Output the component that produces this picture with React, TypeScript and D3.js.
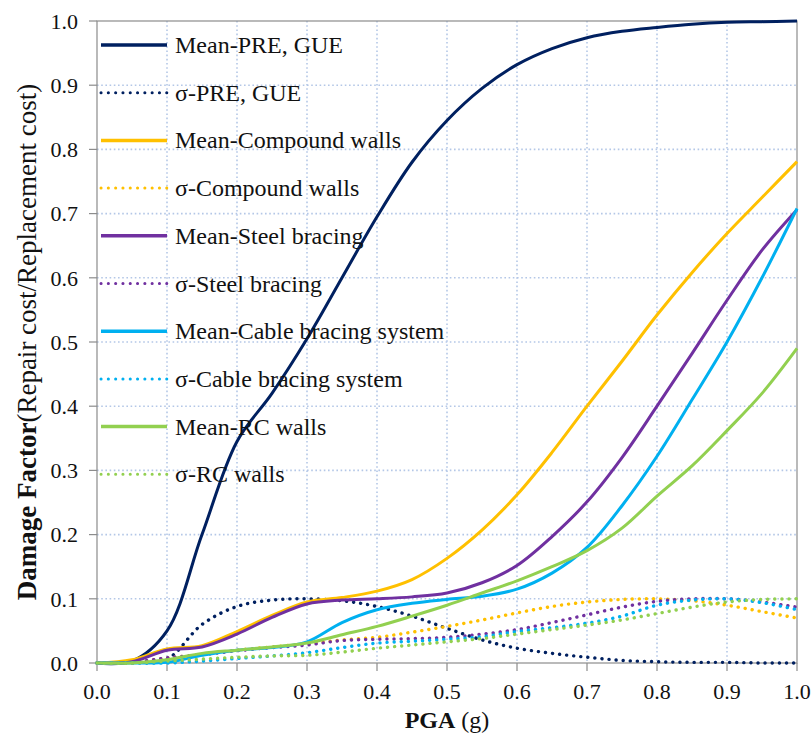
import React from 'react';
import * as d3 from 'd3';

const PGA = [0, 0.05, 0.1, 0.15, 0.2, 0.25, 0.3, 0.35, 0.4, 0.45, 0.5, 0.55, 0.6, 0.65, 0.7, 0.75, 0.8, 0.85, 0.9, 0.95, 1.0];

const meanPRE = [0, 0.003, 0.05, 0.2, 0.345, 0.42, 0.505, 0.6, 0.695, 0.78, 0.845, 0.895, 0.932, 0.957, 0.974, 0.984, 0.99, 0.995, 0.998, 0.999, 1.0];
const sigmaPRE = [0, 0, 0.006, 0.06, 0.088, 0.098, 0.1, 0.097, 0.088, 0.073, 0.054, 0.036, 0.023, 0.015, 0.009, 0.004, 0.002, 0.001, 0.001, 0, 0];
const meanCompound = [0, 0.005, 0.022, 0.027, 0.049, 0.074, 0.095, 0.102, 0.112, 0.13, 0.163, 0.207, 0.262, 0.328, 0.4, 0.47, 0.542, 0.608, 0.669, 0.725, 0.781];
const sigmaCompound = [0, 0.001, 0.008, 0.013, 0.02, 0.025, 0.03, 0.036, 0.04, 0.048, 0.057, 0.067, 0.078, 0.088, 0.095, 0.099, 0.1, 0.097, 0.09, 0.08, 0.07];
const meanSteel = [0, 0.002, 0.02, 0.025, 0.045, 0.071, 0.092, 0.098, 0.1, 0.103, 0.109, 0.125, 0.152, 0.197, 0.251, 0.32, 0.4, 0.482, 0.565, 0.643, 0.706];
const sigmaSteel = [0, 0.001, 0.008, 0.013, 0.019, 0.024, 0.028, 0.035, 0.037, 0.038, 0.04, 0.045, 0.052, 0.063, 0.075, 0.087, 0.096, 0.1, 0.1, 0.095, 0.087];
const meanCable = [0, 0, 0.001, 0.012, 0.02, 0.024, 0.033, 0.063, 0.083, 0.093, 0.099, 0.104, 0.115, 0.14, 0.18, 0.245, 0.322, 0.41, 0.5, 0.6, 0.708];
const sigmaCable = [0, 0, 0, 0.003, 0.007, 0.011, 0.016, 0.024, 0.031, 0.034, 0.037, 0.041, 0.049, 0.055, 0.062, 0.073, 0.09, 0.098, 0.1, 0.094, 0.083];
const meanRC = [0, 0, 0.005, 0.015, 0.02, 0.025, 0.031, 0.044, 0.057, 0.073, 0.09, 0.109, 0.128, 0.15, 0.175, 0.21, 0.26, 0.307, 0.362, 0.42, 0.49];
const sigmaRC = [0, 0, 0.003, 0.006, 0.009, 0.011, 0.012, 0.017, 0.023, 0.028, 0.033, 0.038, 0.045, 0.052, 0.059, 0.067, 0.077, 0.087, 0.095, 0.099, 0.1];

const X_TICKS = [0, 0.1, 0.2, 0.3, 0.4, 0.5, 0.6, 0.7, 0.8, 0.9, 1.0];
const Y_TICKS = [0, 0.1, 0.2, 0.3, 0.4, 0.5, 0.6, 0.7, 0.8, 0.9, 1.0];

const SERIES = [
  { name: 'Mean-PRE, GUE', values: meanPRE, color: '#002060', dotted: false },
  { name: 'σ-PRE, GUE', values: sigmaPRE, color: '#002060', dotted: true },
  { name: 'Mean-Compound walls', values: meanCompound, color: '#ffc000', dotted: false },
  { name: 'σ-Compound walls', values: sigmaCompound, color: '#ffc000', dotted: true },
  { name: 'Mean-Steel bracing', values: meanSteel, color: '#7030a0', dotted: false },
  { name: 'σ-Steel bracing', values: sigmaSteel, color: '#7030a0', dotted: true },
  { name: 'Mean-Cable bracing system', values: meanCable, color: '#00b0f0', dotted: false },
  { name: 'σ-Cable bracing system', values: sigmaCable, color: '#00b0f0', dotted: true },
  { name: 'Mean-RC walls', values: meanRC, color: '#92d050', dotted: false },
  { name: 'σ-RC walls', values: sigmaRC, color: '#92d050', dotted: true },
];

const W = 812, H = 747;
const L = 97, R = 797, T = 21, B = 663;
const FONT = "'Liberation Serif', 'Times New Roman', 'DejaVu Serif', serif";
const TXT = { fontFamily: FONT };

export default function App() {
  const x = d3.scaleLinear().domain([0, 1]).range([L, R]);
  const y = d3.scaleLinear().domain([0, 1]).range([B, T]);
  const line = d3.line<number>()
    .x((_, i) => x(PGA[i]))
    .y((d) => y(Math.max(0, d)))
    .curve(d3.curveCatmullRom.alpha(0.5));

  const grid = '#b4c7e7';
  const axis = '#8c8c8c';

  return (
    <svg width={W} height={H} style={{ position: 'absolute', left: 0, top: 0, background: '#fff' }}>
      {X_TICKS.slice(1, -1).map((t) => (
        <line key={'gx' + t} x1={x(t)} x2={x(t)} y1={T} y2={B} stroke={grid} strokeWidth={1.6} strokeDasharray="1.6,2.6" />
      ))}
      {Y_TICKS.slice(1, -1).map((t) => (
        <line key={'gy' + t} x1={L} x2={R} y1={y(t)} y2={y(t)} stroke={grid} strokeWidth={1.6} strokeDasharray="1.6,2.6" />
      ))}
      <rect x={L} y={T} width={R - L} height={B - T} fill="none" stroke={axis} strokeWidth={1.2} />
      {Y_TICKS.map((t) => (
        <g key={'ty' + t}>
          <line x1={L - 8} x2={L} y1={y(t)} y2={y(t)} stroke={axis} strokeWidth={1.2} />
          <text x={78} y={y(t)} dy="0.35em" textAnchor="end" fontSize={22} fill="#111" style={TXT}>{t.toFixed(1)}</text>
        </g>
      ))}
      {X_TICKS.map((t) => (
        <g key={'tx' + t}>
          <line x1={x(t)} x2={x(t)} y1={B} y2={B + 8} stroke={axis} strokeWidth={1.2} />
          <text x={x(t)} y={699} textAnchor="middle" fontSize={22} fill="#111" style={TXT}>{t.toFixed(1)}</text>
        </g>
      ))}
      {SERIES.map((s) => (
        <path key={s.name} d={line(s.values) || ''} fill="none" stroke={s.color}
          strokeWidth={s.dotted ? 3.4 : 3}
          strokeDasharray={s.dotted ? '0.1,7' : undefined}
          strokeLinecap={s.dotted ? 'round' : 'butt'} />
      ))}
      {SERIES.map((s, i) => {
        const ly = 45 + i * 47.7;
        return (
          <g key={'lg' + s.name}>
            <line x1={101} x2={167} y1={ly} y2={ly} stroke={s.color}
              strokeWidth={s.dotted ? 3 : 3.5}
              strokeDasharray={s.dotted ? '0.1,7.2' : undefined}
              strokeLinecap={s.dotted ? 'round' : 'butt'} />
            <text x={175} y={ly + 8} fontSize={24} fill="#111" style={TXT}>{s.name}</text>
          </g>
        );
      })}
      <text transform={`translate(36, 342) rotate(-90)`} textAnchor="middle" fontSize={27} fill="#111" style={TXT}>
        <tspan fontWeight="bold">Damage Factor</tspan>
        <tspan>(Repair cost/Replacement cost)</tspan>
      </text>
      <text x={447} y={728} textAnchor="middle" fontSize={24} fill="#111" style={TXT}>
        <tspan fontWeight="bold">PGA</tspan>
        <tspan> (g)</tspan>
      </text>
    </svg>
  );
}
